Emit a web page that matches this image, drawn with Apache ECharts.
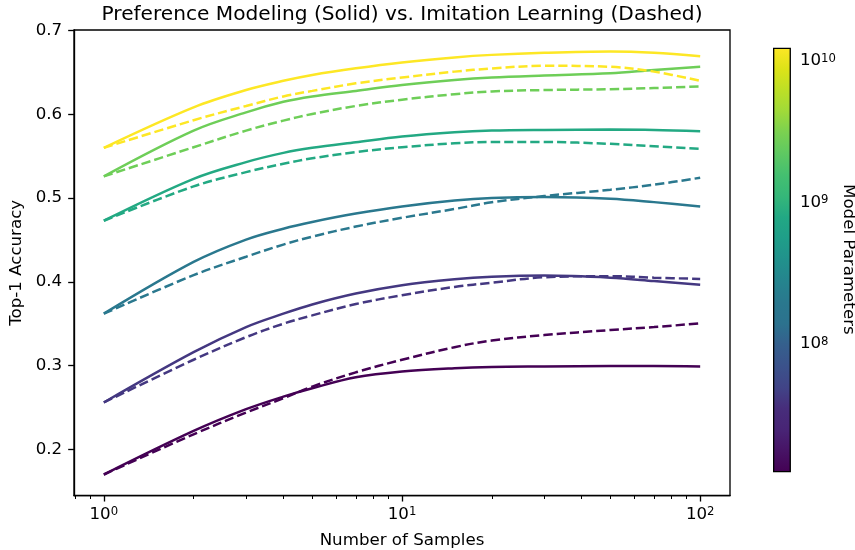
<!DOCTYPE html>
<html><head><meta charset="utf-8">
<script src="https://cdn.jsdelivr.net/npm/echarts@6/dist/echarts.min.js"></script>
<style>html,body{margin:0;padding:0;background:#fff}#c{width:855px;height:550px}</style>
</head><body><div id="c"></div>
<script>
// ---- data ----
const samples = [1, 2, 3, 4, 5, 7, 10, 15, 20, 30, 50, 70, 100];
const modelParams = [1.27e7, 4.2e7, 1.97e8, 8.1e8, 2.7e9, 1.24e10];
// Preference modeling (solid)
const pm13M  = [0.170, 0.222, 0.248, 0.263, 0.273, 0.286, 0.293, 0.297, 0.2985, 0.299, 0.2995, 0.2995, 0.299];
const pm42M  = [0.256, 0.316, 0.346, 0.362, 0.373, 0.386, 0.396, 0.403, 0.406, 0.4075, 0.405, 0.401, 0.3965];
const pm197M = [0.362, 0.4238, 0.4505, 0.4635, 0.4715, 0.4815, 0.490, 0.497, 0.5, 0.5012, 0.4993, 0.4952, 0.490];
const pm810M = [0.473, 0.523, 0.543, 0.554, 0.560, 0.5667, 0.5735, 0.5786, 0.5806, 0.5814, 0.5818, 0.5814, 0.5798];
const pm2B7  = [0.526, 0.5806, 0.6024, 0.615, 0.6214, 0.628, 0.635, 0.641, 0.644, 0.6464, 0.649, 0.653, 0.6568];
const pm12B  = [0.560, 0.6083, 0.629, 0.640, 0.647, 0.655, 0.662, 0.668, 0.671, 0.6735, 0.675, 0.6735, 0.6695];
// Imitation learning (dashed)
const il13M  = [0.170, 0.218, 0.244, 0.261, 0.275, 0.292, 0.307, 0.322, 0.330, 0.3365, 0.3425, 0.346, 0.3505];
const il42M  = [0.256, 0.307, 0.334, 0.350, 0.360, 0.3735, 0.384, 0.394, 0.399, 0.4055, 0.4068, 0.405, 0.4035];
const il197M = [0.362, 0.408, 0.430, 0.4445, 0.454, 0.466, 0.4765, 0.487, 0.495, 0.5024, 0.510, 0.516, 0.5243];
const il810M = [0.473, 0.514, 0.531, 0.541, 0.5475, 0.555, 0.5607, 0.5655, 0.5671, 0.567, 0.5648, 0.562, 0.5588];
const il2B7  = [0.526, 0.5607, 0.5806, 0.5925, 0.6005, 0.610, 0.6175, 0.624, 0.6274, 0.629, 0.630, 0.6314, 0.6333];
const il12B  = [0.560, 0.593, 0.610, 0.6214, 0.628, 0.637, 0.644, 0.651, 0.6548, 0.658, 0.6568, 0.651, 0.640];
const pmSeries = [pm13M, pm42M, pm197M, pm810M, pm2B7, pm12B];
const ilSeries = [il13M, il42M, il197M, il810M, il2B7, il12B];
const yTicks = [0.2, 0.3, 0.4, 0.5, 0.6, 0.7];
const xMajor = [1, 10, 100];
const xMinor = [0.8, 0.9, 2, 3, 4, 5, 6, 7, 8, 9, 20, 30, 40, 50, 60, 70, 80, 90];
const cbMajor = [1e8, 1e9, 1e10];
const cbMinor = [2e7,3e7,4e7,5e7,6e7,7e7,8e7,9e7,2e8,3e8,4e8,5e8,6e8,7e8,8e8,9e8,2e9,3e9,4e9,5e9,6e9,7e9,8e9,9e9];

// ---- viridis ----
const viridis = ['#440154','#471365','#482475','#472d7b','#414487','#3b528b','#355f8d','#2c728e','#2a788e','#25848e','#21918c','#1f9e89','#22a884','#35b779','#44bf70','#5ec962','#7ad151','#a0da39','#bddf26','#dde318','#fde725'];
const vPos = [0,0.05,0.1,0.15,0.2,0.25,0.3,0.35,0.4,0.45,0.5,0.55,0.6,0.65,0.7,0.75,0.8,0.85,0.9,0.95,1];
function hex2rgb(h){return [parseInt(h.slice(1,3),16),parseInt(h.slice(3,5),16),parseInt(h.slice(5,7),16)];}
function viridisAt(t){
  t = Math.max(0, Math.min(1, t));
  for (let i = 0; i < vPos.length - 1; i++) {
    if (t <= vPos[i+1]) {
      const f = (t - vPos[i]) / (vPos[i+1] - vPos[i]);
      const a = hex2rgb(viridis[i]), b = hex2rgb(viridis[i+1]);
      return 'rgb(' + a.map((v,k)=>Math.round(v + (b[k]-v)*f)).join(',') + ')';
    }
  }
  return viridis[viridis.length-1];
}
const pMin = Math.min(...modelParams), pMax = Math.max(...modelParams);
function colorFor(p){ return viridisAt((Math.log10(p)-Math.log10(pMin))/(Math.log10(pMax)-Math.log10(pMin))); }

const FONT = 'DejaVu Sans';
const FS = 16.67;
const supRich = {
  b: { fontFamily: FONT, fontSize: FS, color: '#000', verticalAlign: 'bottom', lineHeight: FS, padding: [3.7,0,0,0] },
  s: { fontFamily: FONT, fontSize: 11.67, color: '#000', verticalAlign: 'top', lineHeight: 11.67 }
};
function powLabel(v){ return '{b|10}{s|' + Math.round(Math.log10(v)) + '}'; }

const series = [];
for (let m = 0; m < modelParams.length; m++) {
  const col = colorFor(modelParams[m]);
  [[pmSeries[m], 'solid'], [ilSeries[m], [9.25, 4]]].forEach(([arr, dash]) => {
    series.push({
      type: 'line', xAxisIndex: 0, yAxisIndex: 0,
      data: samples.map((s, i) => [s, arr[i]]),
      symbol: 'none', showSymbol: false, smooth: 0.35,
      lineStyle: { color: col, width: 2.5, type: dash, cap: 'butt' },
      itemStyle: { color: col },
      animation: false, silent: true
    });
  });
}

const gridMain = { left: 74, top: 30, width: 656, height: 465.7, show: true, borderColor: '#000', borderWidth: 1.33, containLabel: false, outerBoundsMode: 'none' };
const gridCb = { left: 773, top: 47.7, width: 16.6, height: 423.3, show: false, containLabel: false, outerBoundsMode: 'none' };

const chart = echarts.init(document.getElementById('c'), null, { renderer: 'canvas' });
chart.setOption({
  backgroundColor: '#fff',
  animation: false,
  title: {
    text: 'Preference Modeling (Solid) vs. Imitation Learning (Dashed)',
    left: 101.5, top: 4.6, padding: 0,
    textStyle: { fontFamily: FONT, fontSize: 20.15, fontWeight: 'normal', color: '#000', lineHeight: 20 }
  },
  grid: [gridMain, Object.assign({}, gridMain, { show: false }), gridCb, Object.assign({}, gridCb)],
  xAxis: [
    { type: 'log', logBase: 10, gridIndex: 0, min: Math.pow(10, -0.1), max: Math.pow(10, 2.1),
      axisLine: { show: true, onZero: false, lineStyle: { color: '#000', width: 1.33 } },
      axisTick: { show: true, customValues: xMajor, length: 5.83, lineStyle: { color: '#000', width: 1.33 } },
      axisLabel: { show: true, customValues: xMajor, formatter: powLabel, rich: supRich, margin: 10.5, showMinLabel: true, showMaxLabel: true },
      minorTick: { show: false }, splitLine: { show: false },
      name: 'Number of Samples', nameLocation: 'middle', nameGap: 36,
      nameTextStyle: { fontFamily: FONT, fontSize: FS, color: '#000' } },
    { type: 'log', logBase: 10, gridIndex: 1, min: Math.pow(10, -0.1), max: Math.pow(10, 2.1),
      axisLine: { show: false },
      axisTick: { show: true, customValues: xMinor, length: 3.33, lineStyle: { color: '#000', width: 1 } },
      axisLabel: { show: false }, splitLine: { show: false } },
    { type: 'value', gridIndex: 2, min: 0, max: 1, show: false },
    { type: 'value', gridIndex: 3, min: 0, max: 1, show: false }
  ],
  yAxis: [
    { type: 'value', gridIndex: 0, min: 0.1447, max: 0.7007,
      axisLine: { show: true, onZero: false, lineStyle: { color: '#000', width: 1.33 } },
      axisTick: { show: true, customValues: yTicks, length: 5.83, lineStyle: { color: '#000', width: 1.33 } },
      axisLabel: { show: true, customValues: yTicks, formatter: v => v.toFixed(1), margin: 11.8,
        fontFamily: FONT, fontSize: FS, color: '#000' },
      splitLine: { show: false },
      name: 'Top-1 Accuracy', nameLocation: 'middle', nameGap: 42,
      nameTextStyle: { fontFamily: FONT, fontSize: FS, color: '#000' } },
    { type: 'value', gridIndex: 1, min: 0, max: 1, show: false },
    { type: 'log', logBase: 10, gridIndex: 2, position: 'right', min: pMin, max: pMax,
      axisLine: { show: false },
      axisTick: { show: true, customValues: cbMajor, length: 5.83, lineStyle: { color: '#000', width: 1.33 } },
      axisLabel: { show: true, customValues: cbMajor, formatter: powLabel, rich: supRich, margin: 10.3 },
      splitLine: { show: false },
      name: 'Model Parameters', nameLocation: 'middle', nameRotate: -90, nameGap: 46.9,
      nameTextStyle: { fontFamily: FONT, fontSize: FS, color: '#000' } },
    { type: 'log', logBase: 10, gridIndex: 3, position: 'right', min: pMin, max: pMax,
      axisLine: { show: false },
      axisTick: { show: true, customValues: cbMinor, length: 3.33, lineStyle: { color: '#000', width: 1 } },
      axisLabel: { show: false }, splitLine: { show: false } }
  ],
  graphic: [{
    type: 'rect', left: 773, top: 47.7, z: 10,
    shape: { width: 16.6, height: 423.3 },
    style: {
      fill: { type: 'linear', x: 0, y: 1, x2: 0, y2: 0, colorStops: viridis.map((c, i) => ({ offset: vPos[i], color: c })) },
      stroke: '#000', lineWidth: 1.33
    }
  }],
  series: series
});
</script>
</body></html>
